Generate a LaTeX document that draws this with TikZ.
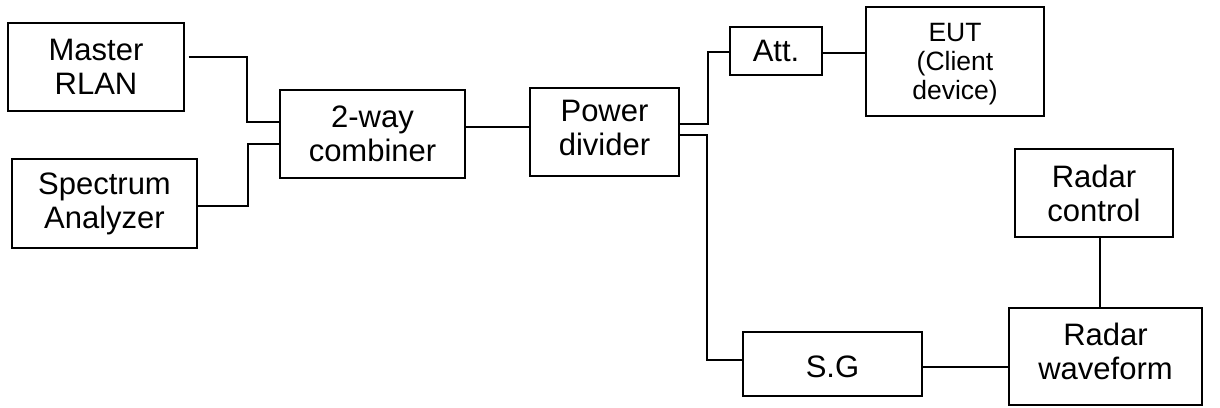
\documentclass[tikz,border=0pt]{standalone}
\usepackage{fontspec}
\setmainfont{Liberation Sans}
\begin{document}
\begin{tikzpicture}[x=1pt,y=-1pt,
  blk/.style={draw, line width=1.4pt, inner sep=0pt, align=center,
    font=\fontsize{31}{34}\selectfont},
  txt/.style={inner sep=0pt, align=center, font=\fontsize{31}{34}\selectfont},
  small/.style={font=\fontsize{26.5}{29}\selectfont},
  wire/.style={line width=1.4pt}]
\useasboundingbox (0,0) rectangle (1220,407);
\node[blk, minimum width=176pt, minimum height=88pt] (m) at (96,67) {Master\\RLAN};
\node[blk, minimum width=185pt, minimum height=89pt] (sa) at (104.5,203.5) {Spectrum\\Analyzer};
\node[blk, minimum width=185pt, minimum height=88pt] (c) at (372.5,134) {2-way\\combiner};
\node[blk, minimum width=149pt, minimum height=88pt] (pd) at (604.5,132) {};
\node[txt] (pdt) at ([yshift=4pt]pd.center) {Power\\divider};
\node[blk, minimum width=92pt, minimum height=48pt] (att) at (776,51) {Att.};
\node[blk, minimum width=178pt, minimum height=109pt] (eut) at (955,61.5) {};
\node[txt, small] (eutt) at ([yshift=-3pt]eut.center) {EUT\\(Client\\device)};
\node[blk, minimum width=158pt, minimum height=88pt] (rc) at (1094,193) {Radar\\control};
\node[blk, minimum width=193pt, minimum height=97pt] (rw) at (1105.5,356.5) {};
\node[txt] (rwt) at ([yshift=5pt]rw.center) {Radar\\waveform};
\node[blk, minimum width=179pt, minimum height=64pt] (sg) at (832.5,364) {};
\node[txt] (sgt) at ([yshift=-3pt]sg.center) {S.G};
\draw[wire] ([xshift=4pt]m.east |- 0,57) -- (247,57) -- (247,122) -- (c.west |- 0,122);
\draw[wire] (sa.east |- 0,206) -- (248,206) -- (248,144) -- (c.west |- 0,144);
\draw[wire] (c.east |- 0,127) -- (pd.west |- 0,127);
\draw[wire] (pd.east |- 0,124) -- (708,124) -- (708,52) -- (att.west |- 0,52);
\draw[wire] (pd.east |- 0,135) -- (707,135) -- (707,360) -- (sg.west |- 0,360);
\draw[wire] (att.east |- 0,53) -- (eut.west |- 0,53);
\draw[wire] (rc.south -| 1100,0) -- (rw.north -| 1100,0);
\draw[wire] (sg.east |- 0,367) -- (rw.west |- 0,367);
\end{tikzpicture}
\end{document}
